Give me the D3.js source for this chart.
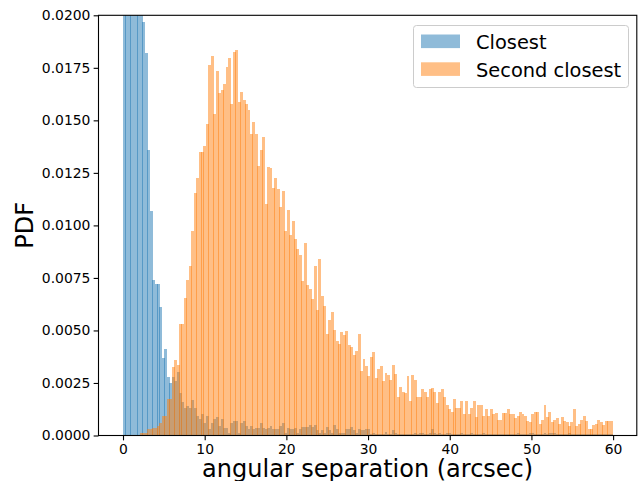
<!DOCTYPE html>
<html><head><meta charset="utf-8">
<script src="https://cdn.jsdelivr.net/npm/d3@7"></script>
<style>body{margin:0;background:#fff}</style>
</head><body>
<script>
// Histogram bins: 200 bins from 0 with constant width
const binStart = 0;
const binWidth = 0.2995;

// "Closest" PDF per bin (first bins exceed the 0.02 view limit and are clipped)
const closest = [
  0.034, 0.062, 0.075, 0.072, 0.060, 0.045, 0.033, 0.024, 0.0197, 0.0182,
  0.0136, 0.0107, 0.0074, 0.0072, 0.0072, 0.0061, 0.0037, 0.0041, 0.0028, 0.0025,
  0.0028, 0.0026, 0.0030, 0.0020, 0.0016, 0.0013, 0.0014, 0.0013, 0.0017, 0.0013,
  0.00095, 0.0008, 0.0010, 0.0006, 0.00095, 0.0003, 0.0006, 0.0008, 0.0009, 0.00044,
  0.0008, 0.00036, 0.00036, 0.00013, 0.0006, 0.00068, 0.00068, 0.00013, 0.0006, 0.00068,
  0.00044, 0.0003, 0.00044, 0.0003, 0.00036, 0.00036, 0.0006, 0.00036, 0.0003, 0.00036,
  0.00044, 0.0003, 0.0003, 0.00033, 0.00044, 0.0006, 0.00013, 0.00036, 0.0003, 0.0003,
  0.00036, 0.00013, 0.00029, 0.0004, 0.0004, 0.0004, 0.0005, 0.0004, 0.00048, 0.00025,
  0.00013, 0.00025, 0.00013, 0.00041, 0.00025, 0.00013, 0.00048, 0.00033, 0.00013, 0.00013,
  0.00013, 0.00033, 0.00033, 0.00041, 0.00024, 0.00013, 0.00033, 0.00024, 0.00024, 0.00033,
  0.00033, 0.00005, 0.00013, 0.00005, 0.00005, 0.00005, 0.00005, 0.00016, 0.00005, 0.00005,
  0.00025, 0.00013, 0.00005, 0.00005, 0.00005, 0.00005, 0.00005, 0.00005, 0.00005, 0.00013,
  0.00005, 0.00013, 0.00013, 0.00005, 0.00005, 0.00013, 0.00029, 0.00013, 0.00005, 0.00013,
  0.00005, 0.00005, 0.00013, 0.00013, 0.00005, 0.00005, 0.00005, 0.00005, 0.00010, 0.00005,
  0.00005, 0.00005, 0.00010, 0.00005, 0.00005, 0.00005, 0.00005, 0.00010, 0.00005, 0.00005,
  0.00005, 0.00005, 0.00005, 0.00005, 0.00005, 0.00005, 0.00005, 0.00005, 0.00005, 0.00005,
  0.00005, 0.00010, 0.00005, 0.00005, 0.00005, 0.00005, 0.00010, 0.00010, 0.00005, 0.00005,
  0.00005, 0.00005, 0.00010, 0.00005, 0.00010, 0.00010, 0.00010, 0.00005, 0.00005, 0.00005,
  0.00005, 0.00005, 0.00014, 0.00005, 0.00005, 0.00005, 0.00005, 0.00005, 0.00005, 0.00005,
  0.00005, 0.00005, 0.00005, 0.00005, 0.00005, 0.00005, 0.00005, 0.00005, 0.00005, 0.00005
];

// "Second closest" PDF per bin
const secondClosest = [
  0, 0, 0, 0, 0, 0, 0, 0.0001, 0.0001, 0.00012,
  0.0003, 0.0003, 0.00036, 0.00036, 0.00044, 0.0006, 0.00092, 0.00092, 0.00174, 0.00174,
  0.00328, 0.00361, 0.00337, 0.00532, 0.00532, 0.00656, 0.00741, 0.00808, 0.00974, 0.01153,
  0.01227, 0.01349, 0.01349, 0.01378, 0.01482, 0.01762, 0.01805, 0.0153, 0.01734, 0.01631,
  0.01644, 0.01675, 0.01755, 0.01797, 0.01577, 0.01826, 0.01837, 0.01588, 0.01633, 0.01596,
  0.01577, 0.01549, 0.01435, 0.01493, 0.01435, 0.01283, 0.01359, 0.01422, 0.01102, 0.0128,
  0.01275, 0.01177, 0.01227, 0.01173, 0.01089, 0.01164, 0.00974, 0.01074, 0.00955, 0.01021,
  0.00936, 0.00887, 0.0086, 0.00733, 0.00918, 0.00717, 0.00697, 0.00649, 0.00808, 0.00599,
  0.00841, 0.00665, 0.00618, 0.00485, 0.00551, 0.00589, 0.00504, 0.00451, 0.00437, 0.00491,
  0.0048, 0.00499, 0.00432, 0.0042, 0.00385, 0.00404, 0.00485, 0.00309, 0.00366, 0.00333,
  0.00285, 0.00372, 0.00397, 0.00276, 0.00318, 0.00329, 0.00261, 0.00298, 0.00288, 0.00266,
  0.00337, 0.00293, 0.00181, 0.00233, 0.00209, 0.0020, 0.00282, 0.00166, 0.00287, 0.00266,
  0.00182, 0.00185, 0.00219, 0.00209, 0.00185, 0.00219, 0.00226, 0.00209, 0.00157, 0.00209,
  0.00219, 0.00185, 0.00143, 0.00124, 0.00114, 0.00174, 0.00133, 0.00133, 0.00162, 0.0010,
  0.00162, 0.0010, 0.00133, 0.00166, 0.0009, 0.00147, 0.00143, 0.00095, 0.00128, 0.00095,
  0.00124, 0.0010, 0.00109, 0.00076, 0.00076, 0.00109, 0.00109, 0.00124, 0.0010, 0.0010,
  0.00081, 0.00095, 0.00111, 0.0010, 0.00095, 0.00067, 0.00062, 0.0010, 0.00114, 0.00114,
  0.00057, 0.00076, 0.00147, 0.0009, 0.00114, 0.00062, 0.00076, 0.00081, 0.00057, 0.0009,
  0.00068, 0.00065, 0.00043, 0.00062, 0.00128, 0.00043, 0.00057, 0.00076, 0.00095, 0.00067,
  0.00033, 0.00033, 0.00048, 0.00057, 0.00076, 0.00062, 0.00048, 0.00067, 0.00067, 0.00067
];

const seriesNames = ["Closest", "Second closest"];
const seriesColors = ["#1f77b4", "#ff7f0e"];
const yTicks = [0, 0.0025, 0.005, 0.0075, 0.01, 0.0125, 0.015, 0.0175, 0.02];
const xTicks = [0, 10, 20, 30, 40, 50, 60];
const xLabel = "angular separation (arcsec)";
const yLabel = "PDF";

const W = 641, H = 481;
const L = 98.5, R = 636.8, T = 15.3, B = 435.5;
const FONT = "DejaVu Sans, sans-serif";

const svg = d3.select("body").append("svg").attr("width", W).attr("height", H)
  .style("font-family", FONT);

const x = d3.scaleLinear().domain([-3.0, 62.9]).range([L, R]);
const y = d3.scaleLinear().domain([0, 0.02]).range([B, T]);

svg.append("defs").append("clipPath").attr("id", "plotclip")
  .append("rect").attr("x", L).attr("y", T).attr("width", R - L).attr("height", B - T);

const plot = svg.append("g").attr("clip-path", "url(#plotclip)");

function drawHist(values, color) {
  const bins = values.map((v, i) => ({
    x0: binStart + i * binWidth, x1: binStart + (i + 1) * binWidth, v
  })).filter(d => d.v > 0);
  plot.append("g").selectAll("rect").data(bins).join("rect")
    .attr("shape-rendering", "crispEdges")
    .attr("x", d => Math.round(x(d.x0) - 0.25))
    .attr("width", d => Math.round(x(d.x1) + 0.25) - Math.round(x(d.x0) - 0.25))
    .attr("y", d => Math.round(y(d.v)))
    .attr("height", d => Math.round(B) - Math.round(y(d.v)) + 0.5)
    .attr("fill", color).attr("fill-opacity", 0.5);
}
drawHist(closest, seriesColors[0]);
drawHist(secondClosest, seriesColors[1]);

// axes
const tickLen = 4.86;
const yAxis = svg.append("g").attr("transform", `translate(${L},0)`)
  .call(d3.axisLeft(y).tickValues(yTicks).tickFormat(d3.format(".4f"))
    .tickSize(tickLen).tickPadding(3.2));
const xAxis = svg.append("g").attr("transform", `translate(0,${B})`)
  .call(d3.axisBottom(x).tickValues(xTicks).tickFormat(d3.format("d"))
    .tickSize(tickLen).tickPadding(3.8));
[xAxis, yAxis].forEach(a => {
  a.select(".domain").remove();
  a.selectAll(".tick line").attr("stroke", "#000").attr("stroke-width", 1.1);
  a.selectAll(".tick text").attr("fill", "#000").style("font-size", "13.9px")
    .style("font-family", FONT);
});

// frame
svg.append("rect").attr("x", L).attr("y", T).attr("width", R - L).attr("height", B - T)
  .attr("fill", "none").attr("stroke", "#000").attr("stroke-width", 1.1);

// labels
svg.append("text").attr("x", (L + R) / 2).attr("y", 477).attr("text-anchor", "middle")
  .style("font-size", "24px").text(xLabel);
svg.append("text").attr("transform", `translate(33,${(T + B) / 2}) rotate(-90)`)
  .attr("text-anchor", "middle").style("font-size", "24px").text(yLabel);

// legend
const lg = svg.append("g");
lg.append("rect").attr("x", 413.5).attr("y", 25.5).attr("width", 215).attr("height", 62)
  .attr("rx", 3).attr("fill", "#fff").attr("fill-opacity", 0.8)
  .attr("stroke", "#cccccc").attr("stroke-width", 1);
seriesNames.forEach((name, i) => {
  const yy = 34.5 + i * 27.8;
  lg.append("rect").attr("x", 421).attr("y", yy).attr("width", 39).attr("height", 13.6)
    .attr("fill", seriesColors[i]).attr("fill-opacity", 0.5);
  lg.append("text").attr("x", 476).attr("y", yy + 14.8).style("font-size", "19.4px")
    .attr("fill", "#000").text(name);
});
</script>
</body></html>
